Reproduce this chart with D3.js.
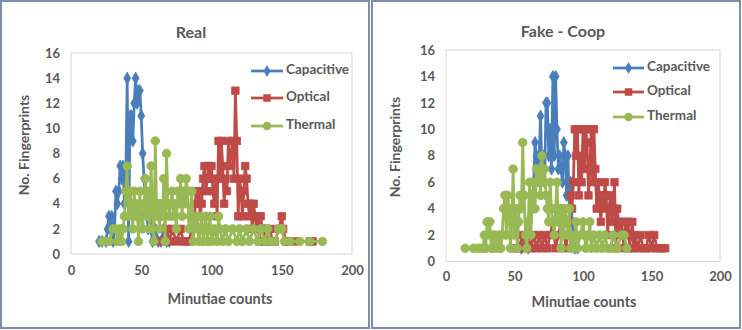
<!DOCTYPE html>
<html><head><meta charset="utf-8">
<script src="https://cdn.jsdelivr.net/npm/d3@7"></script>
<style>
html,body{margin:0;padding:0;background:#fff;}
svg text{font-family:Lato,"Open Sans",sans-serif;font-weight:bold;fill:#595959;}
</style></head>
<body><svg id="c" width="742" height="330"></svg>
<script>
// ---- data: [minutiae count, number of fingerprints] ----
const seriesNames = ["Capacitive", "Optical", "Thermal"];
const panelTitles = ["Real", "Fake - Coop"];
const xTicks = [0, 50, 100, 150, 200];
const yTicks = [0, 2, 4, 6, 8, 10, 12, 14, 16];

const realCapacitive = [[20,1],[22,1],[25,1],[26,2],[27,3],[28,2],[29,3],[30,1],[31,2],[32,5],[33,4],[34,5],[35,7],[36,6],[37,7],[38,4],[39,6],[40,14],[41,1],[42,11],[43,11],[44,9],[45,12],[46,14],[47,12],[48,13],[49,13],[50,11],[51,8],[52,6],[53,4],[54,3],[55,2],[56,4],[57,2],[58,1],[60,2],[62,1],[64,1],[66,2],[68,1],[70,1]];
const realOptical = [[65,1],[68,2],[70,1],[72,2],[75,1],[78,2],[80,1],[82,1],[84,1],[86,2],[88,3],[89,5],[90,4],[91,5],[92,3],[93,4],[94,6],[95,7],[96,5],[97,6],[98,7],[99,6],[100,7],[101,5],[102,4],[103,6],[104,3],[105,9],[106,6],[107,9],[108,7],[109,4],[110,6],[111,5],[112,9],[113,7],[114,8],[115,9],[116,6],[117,13],[118,9],[119,3],[120,6],[121,5],[122,3],[123,5],[124,7],[125,6],[126,4],[127,3],[128,4],[129,2],[130,4],[131,3],[132,2],[133,3],[134,1],[135,3],[136,2],[137,2],[138,1],[139,2],[140,1],[142,2],[143,1],[145,1],[148,2],[150,3],[151,2],[153,1],[155,1],[160,1],[170,1],[172,1]];
const realThermal = [[22,1],[24,1],[27,1],[30,2],[32,2],[33,1],[35,2],[36,1],[37,2],[38,3],[39,5],[40,7],[41,3],[42,5],[43,4],[44,2],[45,5],[46,3],[47,4],[48,1],[49,5],[50,3],[51,2],[52,4],[53,6],[54,3],[55,5],[56,2],[57,7],[58,4],[59,1],[60,9],[61,3],[62,4],[63,2],[64,4],[65,3],[66,6],[67,1],[68,8],[69,4],[70,3],[71,4],[72,5],[73,3],[74,4],[75,2],[76,5],[77,4],[78,6],[79,3],[80,5],[81,4],[82,6],[83,5],[84,2],[85,3],[86,5],[87,1],[88,3],[89,2],[90,3],[91,1],[92,2],[93,3],[94,1],[95,2],[96,3],[97,1],[98,2],[99,3],[100,1],[102,2],[104,1],[105,3],[106,2],[108,1],[110,2],[112,1],[115,2],[118,1],[120,2],[122,1],[125,2],[127,1],[130,2],[133,1],[135,2],[138,1],[140,2],[142,1],[145,1],[148,2],[150,2],[152,1],[156,1],[163,1],[170,1],[179,1]];

const fakeCapacitive = [[55,1],[58,2],[60,1],[62,5],[63,4],[64,6],[65,9],[66,8],[67,7],[68,8],[69,11],[70,7],[71,8],[72,6],[73,12],[74,12],[75,8],[76,10],[77,7],[78,14],[79,8],[80,14],[81,10],[82,7],[83,8],[84,7],[85,6],[86,9],[87,8],[88,5],[89,8],[90,4],[91,6],[92,3],[93,2],[94,1],[96,1]];
const fakeOptical = [[50,1],[53,1],[56,2],[58,1],[60,2],[62,1],[64,2],[66,1],[68,2],[70,1],[72,2],[74,1],[76,2],[78,3],[80,1],[82,2],[84,3],[86,2],[88,1],[89,3],[90,2],[91,5],[92,4],[93,6],[94,10],[95,8],[96,10],[97,5],[98,8],[99,6],[100,10],[101,7],[102,10],[103,9],[104,5],[105,7],[106,10],[107,6],[108,10],[109,7],[110,4],[111,6],[112,5],[113,3],[114,5],[115,4],[116,6],[117,5],[118,2],[119,4],[120,5],[121,3],[122,4],[123,6],[124,1],[125,4],[126,3],[127,2],[128,3],[129,2],[130,1],[131,3],[132,2],[133,3],[134,1],[135,2],[136,3],[137,1],[138,2],[140,1],[142,2],[144,1],[146,1],[148,2],[150,1],[152,2],[154,1],[156,1],[158,1],[160,1]];
const fakeThermal = [[14,1],[20,1],[23,1],[25,1],[27,1],[28,2],[29,1],[30,3],[31,2],[32,3],[33,1],[34,2],[35,1],[36,2],[38,1],[39,2],[40,1],[41,2],[42,4],[43,5],[44,2],[45,5],[46,4],[47,1],[48,3],[49,7],[50,2],[51,4],[52,1],[53,3],[54,5],[55,4],[56,9],[57,5],[58,2],[59,1],[60,3],[61,6],[62,2],[63,5],[64,6],[65,4],[66,7],[67,6],[68,7],[69,5],[70,8],[71,6],[72,7],[73,5],[74,4],[75,3],[76,6],[77,4],[78,3],[79,2],[80,4],[81,6],[82,3],[83,4],[84,1],[85,4],[86,2],[87,4],[88,3],[89,2],[90,4],[91,1],[92,2],[93,1],[95,3],[96,1],[98,2],[100,3],[101,2],[102,1],[104,2],[105,3],[106,1],[108,2],[110,1],[112,2],[114,1],[116,2],[118,1],[120,1],[122,2],[125,1],[128,2],[130,2],[132,1]];

const colors = ["#4A7EBB", "#BE4B48", "#98B954"];
const symbols = [d3.symbolDiamond, d3.symbolSquare, d3.symbolCircle];
const symSizes = [42, 56, 58];

const svg = d3.select("#c");

// outer frames
svg.append("rect").attr("x",1).attr("y",1).attr("width",368).attr("height",327)
  .attr("fill","none").attr("stroke","#7d8eab").attr("stroke-width",2);
svg.append("rect").attr("x",372).attr("y",1).attr("width",368).attr("height",327)
  .attr("fill","none").attr("stroke","#7d8eab").attr("stroke-width",2);

const panels = [
  {data:[realCapacitive, realOptical, realThermal], x0:71, x1:352, y0:254, y1:53,
   title:[191,34], xt:[220,300], yt:[25,145], leg:[251,283,286,[71,98,126]]},
  {data:[fakeCapacitive, fakeOptical, fakeThermal], x0:446, x1:720, y0:261.5, y1:50,
   title:[563,33], xt:[584,303], yt:[396,147], leg:[613,644,647,[68,92,117]]}
];

panels.forEach((p, pi) => {
  const x = d3.scaleLinear().domain([0,200]).range([p.x0, p.x1]);
  const y = d3.scaleLinear().domain([0,16]).range([p.y0, p.y1]);
  const g = svg.append("g");

  g.append("rect").attr("x",p.x0).attr("y",p.y1).attr("width",p.x1-p.x0).attr("height",p.y0-p.y1)
    .attr("fill","none").attr("stroke","#d9d9d9").attr("stroke-width",1);

  const xa = g.append("g").attr("transform",`translate(0,${p.y0})`)
    .call(d3.axisBottom(x).tickValues(xTicks).tickSize(0).tickPadding(pi===0?12:10));
  xa.select(".domain").remove();
  xa.selectAll("text").attr("font-size",13);

  const ya = g.append("g").attr("transform",`translate(${p.x0},0)`)
    .call(d3.axisLeft(y).tickValues(yTicks).tickSize(0).tickPadding(11));
  ya.select(".domain").remove();
  ya.selectAll("text").attr("font-size",13);

  g.append("text").attr("x",p.title[0]).attr("y",p.title[1]).attr("text-anchor","middle")
    .attr("dominant-baseline","middle").attr("font-size",16).text(panelTitles[pi]);
  g.append("text").attr("x",p.xt[0]).attr("y",p.xt[1]).attr("text-anchor","middle")
    .attr("dominant-baseline","middle").attr("font-size",14.5).text("Minutiae counts");
  g.append("text").attr("transform",`translate(${p.yt[0]},${p.yt[1]}) rotate(-90)`)
    .attr("text-anchor","middle").attr("dominant-baseline","middle").attr("font-size",14)
    .text("No. Fingerprints");

  const line = d3.line().x(d => x(d[0])).y(d => y(d[1]));
  p.data.forEach((s, si) => {
    const sg = g.append("g");
    sg.append("path").datum(s).attr("d", line).attr("fill","none")
      .attr("stroke", colors[si]).attr("stroke-width", 2.75).attr("stroke-linejoin","round");
    sg.selectAll("path.m").data(s).join("path").attr("class","m")
      .attr("transform", d => `translate(${x(d[0])},${y(d[1])})`)
      .attr("d", d3.symbol().type(symbols[si]).size(symSizes[si]))
      .attr("fill", colors[si]).attr("stroke", colors[si]).attr("stroke-width",0.8);
  });

  // legend
  const [lx0, lx1, tx, ys] = p.leg;
  seriesNames.forEach((n, si) => {
    const lg = g.append("g");
    lg.append("line").attr("x1",lx0).attr("x2",lx1).attr("y1",ys[si]).attr("y2",ys[si])
      .attr("stroke",colors[si]).attr("stroke-width",2.75);
    lg.append("path").attr("transform",`translate(${(lx0+lx1)/2},${ys[si]})`)
      .attr("d", d3.symbol().type(symbols[si]).size(symSizes[si])).attr("fill",colors[si]);
    lg.append("text").attr("x",tx).attr("y",ys[si]).attr("dominant-baseline","middle")
      .attr("font-size",13.5).text(n);
  });
});
</script></body></html>
